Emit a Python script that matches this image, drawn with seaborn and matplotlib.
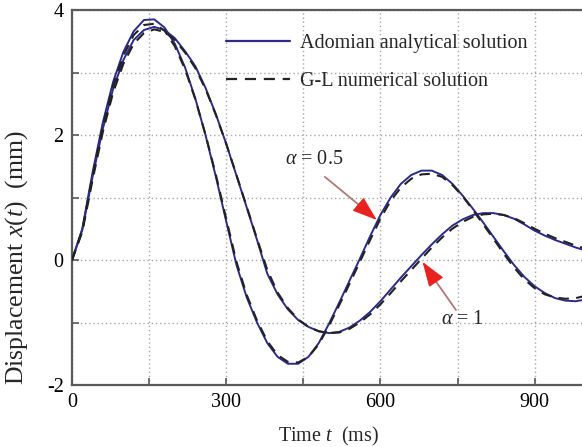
import numpy as np
import pandas as pd
import matplotlib
matplotlib.use("Agg")
import matplotlib.pyplot as plt
from matplotlib.ticker import MultipleLocator
from matplotlib.lines import Line2D
import seaborn as sns

# time axis (ms)
t_ms = list(range(0, 1001, 20))

# alpha = 0.5, Adomian analytical solution (mm)
adomian_a05 = [0.0, 0.5, 1.4, 2.2, 2.85, 3.33, 3.66, 3.84, 3.85, 3.72,
               3.46, 3.08, 2.58, 1.99, 1.33, 0.62, -0.08, -0.6, -1.0, -1.33,
               -1.55, -1.66, -1.66, -1.55, -1.33, -1.02, -0.68, -0.33, 0.02, 0.38,
               0.72, 1.0, 1.22, 1.36, 1.43, 1.43, 1.36, 1.22, 1.03, 0.82,
               0.6, 0.37, 0.14, -0.08, -0.27, -0.42, -0.53, -0.61, -0.65, -0.66,
               -0.63]
# alpha = 0.5, G-L numerical solution (mm)
gl_a05 = [0.0, 0.47, 1.35, 2.14, 2.79, 3.27, 3.6, 3.76, 3.78, 3.67,
          3.42, 3.05, 2.57, 2.0, 1.36, 0.66, -0.03, -0.56, -0.97, -1.3,
          -1.52, -1.63, -1.64, -1.55, -1.35, -1.05, -0.72, -0.38, -0.03, 0.32,
          0.66, 0.95, 1.16, 1.3, 1.37, 1.38, 1.33, 1.2, 1.02, 0.8,
          0.57, 0.34, 0.1, -0.12, -0.31, -0.45, -0.55, -0.6, -0.62, -0.61,
          -0.57]
# alpha = 1, Adomian analytical solution (mm)
adomian_a1 = [0.0, 0.48, 1.33, 2.1, 2.74, 3.2, 3.52, 3.68, 3.73, 3.68,
              3.55, 3.34, 3.1, 2.75, 2.33, 1.86, 1.35, 0.84, 0.32, -0.22,
              -0.55, -0.79, -0.96, -1.07, -1.14, -1.17, -1.15, -1.08, -0.97, -0.83,
              -0.66, -0.47, -0.28, -0.1, 0.08, 0.25, 0.41, 0.55, 0.65, 0.72,
              0.75, 0.75, 0.72, 0.66, 0.57, 0.47, 0.39, 0.32, 0.26, 0.2,
              0.15]
# alpha = 1, G-L numerical solution (mm)
gl_a1 = [0.0, 0.45, 1.28, 2.05, 2.68, 3.14, 3.46, 3.63, 3.69, 3.65,
         3.52, 3.32, 3.07, 2.73, 2.32, 1.86, 1.36, 0.85, 0.34, -0.16,
         -0.52, -0.77, -0.95, -1.07, -1.14, -1.17, -1.16, -1.1, -1.0, -0.87,
         -0.71, -0.53, -0.34, -0.16, 0.02, 0.2, 0.36, 0.5, 0.61, 0.69,
         0.73, 0.74, 0.72, 0.67, 0.59, 0.5, 0.42, 0.35, 0.29, 0.23,
         0.18]

legend_labels = ["Adomian analytical solution", "G-L numerical solution"]
x_ticks = [0, 300, 600, 900]
y_ticks = [-2, 0, 2, 4]

sns.set_theme(style="white")
plt.rcParams["font.family"] = ["Liberation Serif", "DejaVu Serif"]
plt.rcParams["mathtext.fontset"] = "custom"
plt.rcParams["mathtext.rm"] = "Liberation Serif"
plt.rcParams["mathtext.it"] = "Liberation Serif:italic"
plt.rcParams["mathtext.bf"] = "Liberation Serif:bold"
plt.rcParams["axes.unicode_minus"] = False

FS = 14.5
BLUE = "#2b2b8c"
DASH = "#222222"

fig = plt.figure(figsize=(5.82, 4.47), dpi=100)
ax = fig.add_axes([72 / 582, 62 / 447, 514 / 582, 375 / 447])

for ys in (adomian_a05, adomian_a1):
    sns.lineplot(x=t_ms, y=ys, ax=ax, color=BLUE, lw=1.4, zorder=3)
for ys in (gl_a05, gl_a1):
    sns.lineplot(x=t_ms, y=ys, ax=ax, color=DASH, lw=1.5,
                 linestyle=(0, (5, 3.5)), zorder=4)

ax.set_xlim(0, 1000)
ax.set_ylim(-2, 4)
ax.set_xticks(x_ticks)
ax.set_yticks(y_ticks)
ax.xaxis.set_minor_locator(MultipleLocator(150))
ax.yaxis.set_minor_locator(MultipleLocator(1))
ax.grid(which="both", color="#a8a8a8", linestyle=(0, (1, 2)), lw=1.0)
ax.set_axisbelow(True)

for side in ("left", "bottom", "top", "right"):
    ax.spines[side].set_visible(True)
    ax.spines[side].set_color("#5a5a5a")
    ax.spines[side].set_linewidth(1.6)

ax.tick_params(which="both", direction="in", length=5, width=1.2,
               color="#5a5a5a", labelsize=FS, labelcolor="black",
               left=True, bottom=True, top=False, right=False, pad=6)

ax.set_xlabel(r"Time $t$  (ms)", fontsize=FS, labelpad=9)
ax.set_ylabel(r"Displacement $x$($t$)  (mm)", fontsize=18.5)
ax.yaxis.set_label_coords(-0.082, 0.34)

handles = [Line2D([], [], color=BLUE, lw=1.6),
           Line2D([], [], color=DASH, lw=1.6, linestyle=(0, (5, 3.5)))]
ax.legend(handles, legend_labels, loc="upper left",
          bbox_to_anchor=(226 / 582, 1 - 34 / 447), bbox_transform=fig.transFigure,
          frameon=False, fontsize=FS, handlelength=3.2, handletextpad=0.45,
          labelspacing=0.95, borderpad=0, borderaxespad=0)

SHAFT = "#b07878"
HEAD = "#e8231f"

def pointer(text, text_xy, tail, tip, head_from):
    ax.text(*text_xy, text, fontsize=FS, ha="center", va="center", zorder=6)
    ax.annotate("", xy=head_from, xytext=tail,
                arrowprops=dict(arrowstyle="-", color=SHAFT, lw=1.3,
                                shrinkA=0, shrinkB=0), zorder=6)
    ax.annotate("", xy=tip, xytext=head_from,
                arrowprops=dict(arrowstyle="-|>,head_length=1.3,head_width=0.45",
                                color=HEAD, lw=1.0, shrinkA=0, shrinkB=0,
                                mutation_scale=12), zorder=6)

pointer(r"$\alpha$ = 0.5", (472, 1.6), (492, 1.33), (593, 0.64), (560, 0.87))
pointer(r"$\alpha$ = 1", (760, -0.96), (747, -0.80), (682, -0.03), (700, -0.25))

fig.savefig("out.png", dpi=100)
